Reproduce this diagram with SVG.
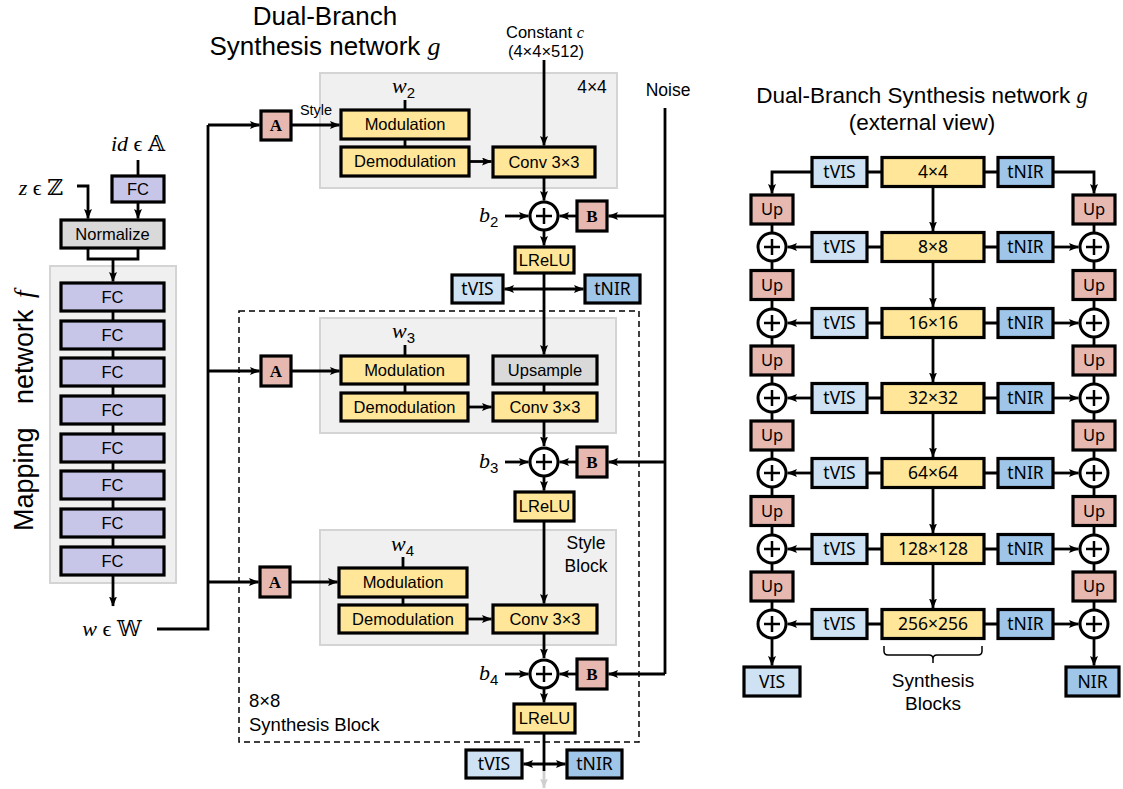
<svg xmlns="http://www.w3.org/2000/svg" width="1123" height="789" viewBox="0 0 1123 789">
<defs>
<marker id="ah" viewBox="0 0 10 8" refX="9.5" refY="4" markerWidth="10" markerHeight="8" markerUnits="userSpaceOnUse" orient="auto-start-reverse"><path d="M0,0 L10,4 L0,8 L2,4 z" fill="#000"/></marker>
<marker id="ahg" viewBox="0 0 10 8" refX="9.5" refY="4" markerWidth="10" markerHeight="8" markerUnits="userSpaceOnUse" orient="auto"><path d="M0,0 L10,4 L0,8 L2,4 z" fill="#cfcfcf"/></marker>
</defs>
<style>
.box{stroke:#000;stroke-width:3.2}
.y{fill:#FFE699}
.p{fill:#E6B8AF}
.lb{fill:#CFE2F3}
.db{fill:#9FC5E8}
.fc{fill:#C8C6E8}
.g{fill:#D9D9D9}
.panel{fill:#F0F0F0;stroke:#D4D4D4;stroke-width:2}
.t{font-family:"Liberation Sans",Arial,sans-serif;font-size:16.5px;text-anchor:middle;fill:#000}
.n{font-family:"Noto Sans","Open Sans",sans-serif;font-size:17.5px;text-anchor:middle;fill:#000}
.m{font-family:"Liberation Serif","DejaVu Serif",serif;font-style:italic}
.ab{font-family:"Liberation Serif","DejaVu Serif",serif;font-weight:bold;font-size:17px;text-anchor:middle}
.c{fill:none;stroke:#000;stroke-width:2.8}
.a{marker-end:url(#ah)}
.d{marker-start:url(#ah);marker-end:url(#ah)}
.circ{fill:#fff;stroke:#000;stroke-width:3}
.plus{stroke:#000;stroke-width:2.5;fill:none}
.up{font-size:16.5px}
</style>
<rect width="1123" height="789" fill="#fff"/>

<!-- panels -->
<g id="mapping-panel"><rect class="panel" x="50" y="266" width="126" height="317"/></g>
<g id="style-panel-4x4"><rect class="panel" x="320" y="73" width="297" height="115"/>
<text class="t" x="592" y="93" style="font-size:17.5px">4×4</text></g>
<g id="synthesis-block-8x8"><rect x="239" y="311" width="400" height="431" fill="none" stroke="#000" stroke-width="1.5" stroke-dasharray="6,4"/>
<text class="t" x="249" y="707" style="font-size:18.5px;text-anchor:start">8×8</text>
<text class="t" x="249" y="731" style="font-size:18.5px;text-anchor:start">Synthesis Block</text></g>
<g id="style-panel-2"><rect class="panel" x="320" y="318" width="296" height="115"/></g>
<g id="style-panel-3"><rect class="panel" x="320" y="530" width="296" height="115"/>
<text class="t" x="586" y="549" style="font-size:17.5px">Style</text>
<text class="t" x="586" y="572" style="font-size:17.5px">Block</text></g>

<!-- connectors -->
<g id="connectors">
<path class="c" d="M138,160 V176"/>
<path class="c a" d="M77,186 H88 V218.5"/>
<path class="c a" d="M138,202 V218.5"/>
<path class="c" d="M88,248 V259 H138 V248"/>
<path class="c a" d="M113,259 V281.5"/>
<path class="c" d="M113,311 V321 M113,349 V358 M113,386 V396 M113,424 V434 M113,462 V471 M113,499 V509 M113,537 V547"/>
<path class="c a" d="M113,575 V606"/>
<path class="c" d="M157,629 H208 V125"/>
<path class="c a" d="M208,125 H259.5"/>
<path class="c a" d="M208,371 H259.5"/>
<path class="c a" d="M208,582 H258.5"/>
<path class="c a" d="M291,125 H339.5"/>
<path class="c a" d="M291,371 H339.5"/>
<path class="c a" d="M290,582 H337.5"/>
<path class="c" d="M405,100 V110 M405,139 V147 M405,345 V356 M405,384 V393 M403,557 V568 M403,597 V605"/>
<path class="c a" d="M469,161.5 H491.5"/>
<path class="c a" d="M468,407 H491.5"/>
<path class="c a" d="M467,619 H491.5"/>
<path class="c a" d="M544,60 V145.5"/>
<path class="c a" d="M544,177 V200.5"/>
<path class="c a" d="M544,230 V245.5"/>
<path class="c a" d="M544,273 V354.5"/>
<path class="c d" d="M504.5,289 H583.5"/>
<path class="c" d="M544,384 V393"/>
<path class="c a" d="M544,421 V446"/>
<path class="c a" d="M544,476 V490.5"/>
<path class="c a" d="M544,521 V603.5"/>
<path class="c a" d="M544,633 V658"/>
<path class="c a" d="M544,688 V702.5"/>
<path class="c" d="M544,733 V771"/>
<path fill="none" stroke="#cfcfcf" stroke-width="2.8" marker-end="url(#ahg)" d="M544,771 V788"/>
<path class="c d" d="M523.5,764 H565.5"/>
<path class="c a" d="M505,216 H528.5"/>
<path class="c a" d="M505,462 H528.5"/>
<path class="c a" d="M505,674 H528.5"/>
<path class="c a" d="M577,216 H559.5"/>
<path class="c a" d="M577,462 H559.5"/>
<path class="c a" d="M577,674 H559.5"/>
<path class="c" d="M665,108 V674"/>
<path class="c a" d="M665,216 H608.5"/>
<path class="c a" d="M665,462 H608.5"/>
<path class="c a" d="M665,674 H608.5"/>
<path class="c a" d="M812,172 H772 V193.5"/>
<path class="c a" d="M1053,172 H1094 V193.5"/>
<path class="c" d="M772,224 V610 M1094,224 V610"/>
<path class="c" d="M867,172 H882 M984,172 H998 M867,247 H882 M984,247 H998 M867,323 H882 M984,323 H998 M867,398 H882 M984,398 H998 M867,473 H882 M984,473 H998 M867,549 H882 M984,549 H998 M867,624 H882 M984,624 H998"/>
<path class="c a" d="M812,247 H787.5"/>
<path class="c a" d="M812,323 H787.5"/>
<path class="c a" d="M812,398 H787.5"/>
<path class="c a" d="M812,473 H787.5"/>
<path class="c a" d="M812,549 H787.5"/>
<path class="c a" d="M812,624 H787.5"/>
<path class="c a" d="M1053,247 H1078.5"/>
<path class="c a" d="M1053,323 H1078.5"/>
<path class="c a" d="M1053,398 H1078.5"/>
<path class="c a" d="M1053,473 H1078.5"/>
<path class="c a" d="M1053,549 H1078.5"/>
<path class="c a" d="M1053,624 H1078.5"/>
<path class="c a" d="M933,186.5 V231"/>
<path class="c a" d="M933,261.5 V307"/>
<path class="c a" d="M933,337.5 V382"/>
<path class="c a" d="M933,412.5 V457"/>
<path class="c a" d="M933,487.5 V533"/>
<path class="c a" d="M933,563.5 V608"/>
<path class="c a" d="M772,638 V665.5"/>
<path class="c a" d="M1094,638 V665.5"/>
<path fill="none" stroke="#000" stroke-width="1.5" d="M884,646 V651 Q884,655 888,655 H929 Q933,655 933,659 V663 M933,659 Q933,655 937,655 H978 Q982,655 982,651 V646"/>
</g>

<!-- mapping network nodes -->
<g id="id-input"><text x="138" y="151" font-size="22" text-anchor="middle" font-family="Liberation Serif, DejaVu Serif, serif"><tspan font-style="italic">id</tspan> ϵ 𝔸</text></g>
<g id="z-input"><text x="41" y="195" font-size="22" text-anchor="middle" font-family="Liberation Serif, DejaVu Serif, serif"><tspan font-style="italic">z</tspan> ϵ ℤ</text></g>
<g id="fc-id"><rect class="box fc" x="112" y="176" width="52" height="26"/><text class="t" x="138" y="195">FC</text></g>
<g id="normalize"><rect class="box g" x="61" y="220" width="103" height="28"/><text class="t" x="112.5" y="240">Normalize</text></g>
<g id="fc1"><rect class="box fc" x="61" y="283" width="103" height="28"/><text class="t" x="112.5" y="303">FC</text></g>
<g id="fc2"><rect class="box fc" x="61" y="321" width="103" height="28"/><text class="t" x="112.5" y="341">FC</text></g>
<g id="fc3"><rect class="box fc" x="61" y="358" width="103" height="28"/><text class="t" x="112.5" y="378">FC</text></g>
<g id="fc4"><rect class="box fc" x="61" y="396" width="103" height="28"/><text class="t" x="112.5" y="416">FC</text></g>
<g id="fc5"><rect class="box fc" x="61" y="434" width="103" height="28"/><text class="t" x="112.5" y="454">FC</text></g>
<g id="fc6"><rect class="box fc" x="61" y="471" width="103" height="28"/><text class="t" x="112.5" y="491">FC</text></g>
<g id="fc7"><rect class="box fc" x="61" y="509" width="103" height="28"/><text class="t" x="112.5" y="529">FC</text></g>
<g id="fc8"><rect class="box fc" x="61" y="547" width="103" height="28"/><text class="t" x="112.5" y="567">FC</text></g>
<g id="mapping-label"><text transform="rotate(-90)" font-family="Liberation Sans, Arial, sans-serif" font-size="27"><tspan x="-531" y="33">Mapping</tspan><tspan x="-404" y="33">network</tspan><tspan x="-298" y="33" font-family="Liberation Serif, serif" font-style="italic">f</tspan></text></g>
<g id="w-output"><text x="112" y="636" font-size="22" text-anchor="middle" font-family="Liberation Serif, DejaVu Serif, serif"><tspan font-style="italic">w</tspan> ϵ 𝕎</text></g>

<!-- synthesis detail nodes -->
<g id="title-synthesis"><text class="t" x="325" y="25" style="font-size:26px">Dual-Branch</text>
<text class="t" x="325" y="55" style="font-size:26px">Synthesis network <tspan class="m">g</tspan></text></g>
<g id="constant"><text class="t" x="545" y="38" style="font-size:16.5px">Constant <tspan class="m">c</tspan></text>
<text class="t" x="546" y="57" style="font-size:16.5px">(4×4×512)</text></g>
<g id="noise"><text class="t" x="668" y="96" style="font-size:17.5px">Noise</text></g>

<g id="A1"><rect class="box p" x="261" y="111" width="30" height="29"/><text class="ab" x="276" y="131">A</text></g>
<g id="style-label"><text class="t" x="316" y="115" style="font-size:14.5px">Style</text></g>
<g id="w2"><text class="m" x="392" y="93" font-size="22">w<tspan font-family="Liberation Sans, sans-serif" font-style="normal" font-size="15" dy="5">2</tspan></text></g>
<g id="mod1"><rect class="box y" x="341" y="110" width="128" height="29"/><text class="t" x="405" y="130">Modulation</text></g>
<g id="demod1"><rect class="box y" x="341" y="147" width="128" height="29"/><text class="t" x="405" y="167">Demodulation</text></g>
<g id="conv1"><rect class="box y" x="493" y="147" width="102" height="30"/><text class="t" x="544" y="168">Conv 3×3</text></g>
<g id="b2"><text class="m" x="479" y="222" font-size="22">b<tspan font-family="Liberation Sans, sans-serif" font-style="normal" font-size="15" dy="5">2</tspan></text></g>
<g id="add1"><circle class="circ" cx="544" cy="216" r="14"/><path class="plus" d="M536,216 H552 M544,208 V224"/></g>
<g id="B1"><rect class="box p" x="577" y="201" width="30" height="30"/><text class="ab" x="592" y="222">B</text></g>
<g id="lrelu1"><rect class="box y" x="515" y="247" width="59" height="26"/><text class="t" x="544.5" y="266">LReLU</text></g>
<g id="tvis1"><rect class="box lb" x="452" y="275" width="51" height="28"/><text class="n" x="477.5" y="295">tVIS</text></g>
<g id="tnir1"><rect class="box db" x="585" y="275" width="55" height="28"/><text class="n" x="612.5" y="295">tNIR</text></g>

<g id="A2"><rect class="box p" x="261" y="356" width="30" height="30"/><text class="ab" x="276" y="377">A</text></g>
<g id="w3"><text class="m" x="392" y="338" font-size="22">w<tspan font-family="Liberation Sans, sans-serif" font-style="normal" font-size="15" dy="5">3</tspan></text></g>
<g id="mod2"><rect class="box y" x="341" y="356" width="127" height="28"/><text class="t" x="404.5" y="376">Modulation</text></g>
<g id="demod2"><rect class="box y" x="341" y="393" width="127" height="28"/><text class="t" x="404.5" y="413">Demodulation</text></g>
<g id="upsample"><rect class="box g" x="493" y="356" width="104" height="28"/><text class="t" x="545" y="376">Upsample</text></g>
<g id="conv2"><rect class="box y" x="493" y="393" width="104" height="28"/><text class="t" x="545" y="413">Conv 3×3</text></g>
<g id="b3"><text class="m" x="479" y="468" font-size="22">b<tspan font-family="Liberation Sans, sans-serif" font-style="normal" font-size="15" dy="5">3</tspan></text></g>
<g id="add2"><circle class="circ" cx="544" cy="462" r="14"/><path class="plus" d="M536,462 H552 M544,454 V470"/></g>
<g id="B2"><rect class="box p" x="577" y="447" width="30" height="30"/><text class="ab" x="592" y="468">B</text></g>
<g id="lrelu2"><rect class="box y" x="515" y="492" width="59" height="29"/><text class="t" x="544.5" y="512">LReLU</text></g>

<g id="A3"><rect class="box p" x="260" y="567" width="30" height="30"/><text class="ab" x="275" y="588">A</text></g>
<g id="w4"><text class="m" x="391" y="551" font-size="22">w<tspan font-family="Liberation Sans, sans-serif" font-style="normal" font-size="15" dy="5">4</tspan></text></g>
<g id="mod3"><rect class="box y" x="339" y="568" width="128" height="29"/><text class="t" x="403" y="588">Modulation</text></g>
<g id="demod3"><rect class="box y" x="339" y="605" width="128" height="28"/><text class="t" x="403" y="625">Demodulation</text></g>
<g id="conv3"><rect class="box y" x="493" y="605" width="104" height="28"/><text class="t" x="545" y="625">Conv 3×3</text></g>
<g id="b4"><text class="m" x="479" y="680" font-size="22">b<tspan font-family="Liberation Sans, sans-serif" font-style="normal" font-size="15" dy="5">4</tspan></text></g>
<g id="add3"><circle class="circ" cx="544" cy="674" r="14"/><path class="plus" d="M536,674 H552 M544,666 V682"/></g>
<g id="B3"><rect class="box p" x="577" y="659" width="30" height="30"/><text class="ab" x="592" y="680">B</text></g>
<g id="lrelu3"><rect class="box y" x="514" y="704" width="61" height="29"/><text class="t" x="544.5" y="724">LReLU</text></g>
<g id="tvis2"><rect class="box lb" x="466" y="750" width="56" height="28"/><text class="n" x="494" y="770">tVIS</text></g>
<g id="tnir2"><rect class="box db" x="567" y="750" width="55" height="28"/><text class="n" x="594.5" y="770">tNIR</text></g>

<!-- external view -->
<g id="title-external"><text class="t" x="922" y="103" style="font-size:22.5px">Dual-Branch Synthesis network <tspan class="m">g</tspan></text>
<text class="t" x="922" y="130" style="font-size:22.5px">(external view)</text></g>

<g id="row-4x4"><rect class="box lb" x="812" y="157.5" width="55" height="29"/><text class="n" x="839.5" y="178">tVIS</text>
<rect class="box y" x="882" y="157.5" width="102" height="29"/><text class="n" x="933" y="178">4×4</text>
<rect class="box db" x="998" y="157.5" width="55" height="29"/><text class="n" x="1025.5" y="178">tNIR</text></g>

<g id="row-8x8"><rect class="box lb" x="812" y="232.5" width="55" height="29"/><text class="n" x="839.5" y="253">tVIS</text>
<rect class="box y" x="882" y="232.5" width="102" height="29"/><text class="n" x="933" y="253">8×8</text>
<rect class="box db" x="998" y="232.5" width="55" height="29"/><text class="n" x="1025.5" y="253">tNIR</text></g>

<g id="row-16x16"><rect class="box lb" x="812" y="308.5" width="55" height="29"/><text class="n" x="839.5" y="329">tVIS</text>
<rect class="box y" x="882" y="308.5" width="102" height="29"/><text class="n" x="933" y="329">16×16</text>
<rect class="box db" x="998" y="308.5" width="55" height="29"/><text class="n" x="1025.5" y="329">tNIR</text></g>

<g id="row-32x32"><rect class="box lb" x="812" y="383.5" width="55" height="29"/><text class="n" x="839.5" y="404">tVIS</text>
<rect class="box y" x="882" y="383.5" width="102" height="29"/><text class="n" x="933" y="404">32×32</text>
<rect class="box db" x="998" y="383.5" width="55" height="29"/><text class="n" x="1025.5" y="404">tNIR</text></g>

<g id="row-64x64"><rect class="box lb" x="812" y="458.5" width="55" height="29"/><text class="n" x="839.5" y="479">tVIS</text>
<rect class="box y" x="882" y="458.5" width="102" height="29"/><text class="n" x="933" y="479">64×64</text>
<rect class="box db" x="998" y="458.5" width="55" height="29"/><text class="n" x="1025.5" y="479">tNIR</text></g>

<g id="row-128x128"><rect class="box lb" x="812" y="534.5" width="55" height="29"/><text class="n" x="839.5" y="555">tVIS</text>
<rect class="box y" x="882" y="534.5" width="102" height="29"/><text class="n" x="933" y="555">128×128</text>
<rect class="box db" x="998" y="534.5" width="55" height="29"/><text class="n" x="1025.5" y="555">tNIR</text></g>

<g id="row-256x256"><rect class="box lb" x="812" y="609.5" width="55" height="29"/><text class="n" x="839.5" y="630">tVIS</text>
<rect class="box y" x="882" y="609.5" width="102" height="29"/><text class="n" x="933" y="630">256×256</text>
<rect class="box db" x="998" y="609.5" width="55" height="29"/><text class="n" x="1025.5" y="630">tNIR</text></g>

<g id="vis-branch">
<rect class="box p" x="751" y="195" width="42" height="29"/><text class="n up" x="772" y="215">Up</text>
<circle class="circ" cx="772" cy="247" r="14"/><path class="plus" d="M764,247 H780 M772,239 V255"/>
<rect class="box p" x="751" y="270.5" width="42" height="29"/><text class="n up" x="772" y="290.5">Up</text>
<circle class="circ" cx="772" cy="323" r="14"/><path class="plus" d="M764,323 H780 M772,315 V331"/>
<rect class="box p" x="751" y="346" width="42" height="29"/><text class="n up" x="772" y="366">Up</text>
<circle class="circ" cx="772" cy="398" r="14"/><path class="plus" d="M764,398 H780 M772,390 V406"/>
<rect class="box p" x="751" y="421" width="42" height="29"/><text class="n up" x="772" y="441">Up</text>
<circle class="circ" cx="772" cy="473" r="14"/><path class="plus" d="M764,473 H780 M772,465 V481"/>
<rect class="box p" x="751" y="496.5" width="42" height="29"/><text class="n up" x="772" y="516.5">Up</text>
<circle class="circ" cx="772" cy="549" r="14"/><path class="plus" d="M764,549 H780 M772,541 V557"/>
<rect class="box p" x="751" y="572" width="42" height="29"/><text class="n up" x="772" y="592">Up</text>
<circle class="circ" cx="772" cy="624" r="14"/><path class="plus" d="M764,624 H780 M772,616 V632"/>
</g>
<g id="nir-branch">
<rect class="box p" x="1073" y="195" width="42" height="29"/><text class="n up" x="1094" y="215">Up</text>
<circle class="circ" cx="1094" cy="247" r="14"/><path class="plus" d="M1086,247 H1102 M1094,239 V255"/>
<rect class="box p" x="1073" y="270.5" width="42" height="29"/><text class="n up" x="1094" y="290.5">Up</text>
<circle class="circ" cx="1094" cy="323" r="14"/><path class="plus" d="M1086,323 H1102 M1094,315 V331"/>
<rect class="box p" x="1073" y="346" width="42" height="29"/><text class="n up" x="1094" y="366">Up</text>
<circle class="circ" cx="1094" cy="398" r="14"/><path class="plus" d="M1086,398 H1102 M1094,390 V406"/>
<rect class="box p" x="1073" y="421" width="42" height="29"/><text class="n up" x="1094" y="441">Up</text>
<circle class="circ" cx="1094" cy="473" r="14"/><path class="plus" d="M1086,473 H1102 M1094,465 V481"/>
<rect class="box p" x="1073" y="496.5" width="42" height="29"/><text class="n up" x="1094" y="516.5">Up</text>
<circle class="circ" cx="1094" cy="549" r="14"/><path class="plus" d="M1086,549 H1102 M1094,541 V557"/>
<rect class="box p" x="1073" y="572" width="42" height="29"/><text class="n up" x="1094" y="592">Up</text>
<circle class="circ" cx="1094" cy="624" r="14"/><path class="plus" d="M1086,624 H1102 M1094,616 V632"/>
</g>
<g id="vis-out"><rect class="box lb" x="744" y="667" width="56" height="29"/><text class="n" x="772" y="688">VIS</text></g>
<g id="nir-out"><rect class="box db" x="1066" y="667" width="53" height="29"/><text class="n" x="1092.5" y="688">NIR</text></g>
<g id="synthesis-blocks-label"><text class="t" x="933" y="687" style="font-size:19px">Synthesis</text>
<text class="t" x="933" y="710" style="font-size:19px">Blocks</text></g>
</svg>
